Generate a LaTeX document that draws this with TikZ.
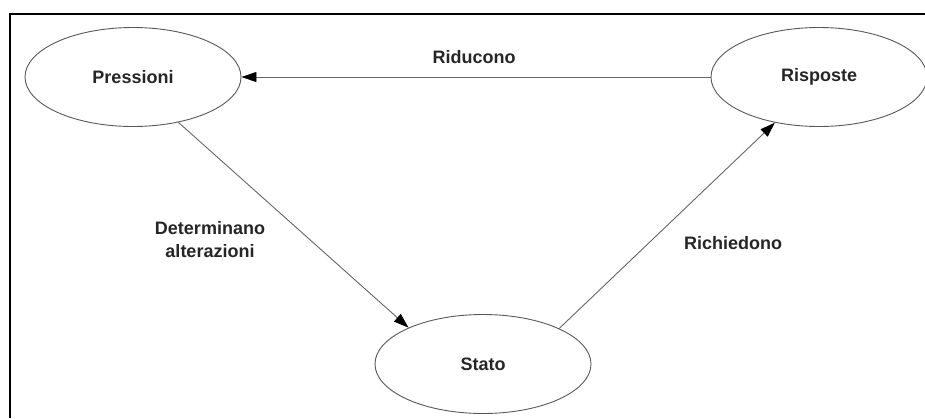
\documentclass[tikz,border=0pt]{standalone}
\usepackage{fontspec}
\setmainfont{Liberation Sans}
\usetikzlibrary{shapes.geometric,arrows.meta}

\begin{document}
\begin{tikzpicture}[x=1pt,y=-1pt,
    stato/.style={ellipse,draw=black!65,line width=0.9pt,fill=white,
      minimum width=216pt,minimum height=99pt,inner sep=0pt,
      font=\fontsize{18}{22}\selectfont\bfseries,text=black!85},
    etichetta/.style={font=\fontsize{18}{23}\selectfont\bfseries,
      text=black!85,align=center,inner sep=0pt},
    freccia/.style={draw=black!60,line width=0.9pt,
      -{Triangle[length=15pt,width=10pt,fill=black,color=black]}}]
  \useasboundingbox (0,0) rectangle (925,418);
  \fill[white] (0,0) rectangle (925,418);
  % cornice
  \draw[line width=2.6pt] (10,418) -- (10,14) -- (925,14);
  \draw
    (133,77) node[stato] (pressioni){Pressioni}
    (819,77) node[stato] (risposte){Risposte}
    (483,364) node[stato] (stato){Stato};
  \draw
    (474,57) node[etichetta] (riducono){Riducono}
    (210,240) node[etichetta] (determinano){Determinano\\alterazioni}
    (733,243) node[etichetta] (richiedono){Richiedono};
  \begin{scope}[freccia]
    \draw (risposte.west) to (pressioni.east);
    \draw (pressioni.315.6) to (stato.154.7);
    \draw (stato.25.7) to (risposte.226.3);
  \end{scope}
\end{tikzpicture}
\end{document}
